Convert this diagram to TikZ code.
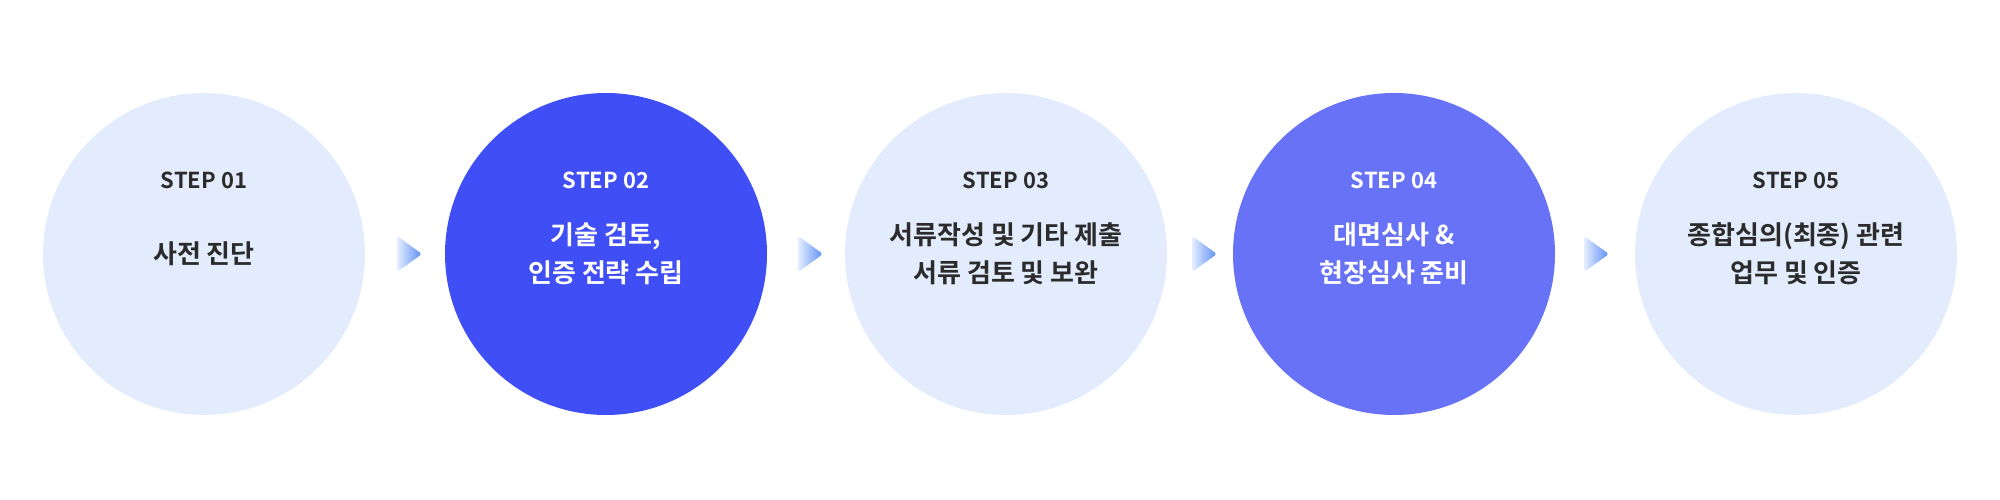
\documentclass[tikz,border=0pt]{standalone}
\usepackage{fontspec}
\setmainfont{Noto Sans CJK KR}[BoldFont={Noto Sans CJK KR Bold}]
\usetikzlibrary{calc}
\definecolor{lightc}{HTML}{E2ECFD}
\definecolor{darkc}{HTML}{404EF5}
\definecolor{midc}{HTML}{6872F6}
\definecolor{txt}{HTML}{2B2B2B}
\definecolor{arrA}{HTML}{E4EEFF}
\definecolor{arrB}{HTML}{5C8DF5}
\begin{document}
\begin{tikzpicture}[x=1pt,y=1pt,
  circ/.style={circle,minimum size=322pt,inner sep=0pt},
  lt/.style={circ,fill=lightc},
  steplbl/.style={font=\bfseries\fontsize{22}{26}\selectfont},
  main/.style={font=\bfseries\fontsize{26}{38}\selectfont,align=center},
  arr/.style={left color=arrA,right color=arrB,rounded corners=3pt}]
\useasboundingbox (0,0) rectangle (2000,500);
\node[lt] (c1) at (204,246) {};
\node[circ,fill=darkc] (c2) at (606,246) {};
\node[lt] (c3) at (1006,246) {};
\node[circ,fill=midc] (c4) at (1394,246) {};
\node[lt] (c5) at (1796,246) {};
\foreach \n/\c in {1/txt,2/white,3/txt,4/white,5/txt}{
  \node[steplbl,text=\c] (s\n) at ($(c\n)+(0,74)$) {STEP 0\n};
}
\node[main,text=txt] (t1) at ($(c1)+(0,0)$) {사전 진단};
\node[main,text=white] (t2) at ($(c2)+(0,0)$) {기술 검토,\\인증 전략 수립};
\node[main,text=txt] (t3) at ($(c3)+(0,0)$) {서류작성 및 기타 제출\\서류 검토 및 보완};
\node[main,text=white] (t4) at ($(c4)+(0,0)$) {대면심사 \&\\현장심사 준비};
\node[main,text=txt] (t5) at ($(c5)+(0,0)$) {종합심의(최종) 관련\\업무 및 인증};
\foreach \x [count=\i] in {397,798,1192,1584}{
  \coordinate (a\i) at (\x,246);
  \shade[arr] ($(a\i)+(0,18)$) -- ($(a\i)+(25,0)$) -- ($(a\i)+(0,-18)$) -- cycle;
}
\end{tikzpicture}
\end{document}
